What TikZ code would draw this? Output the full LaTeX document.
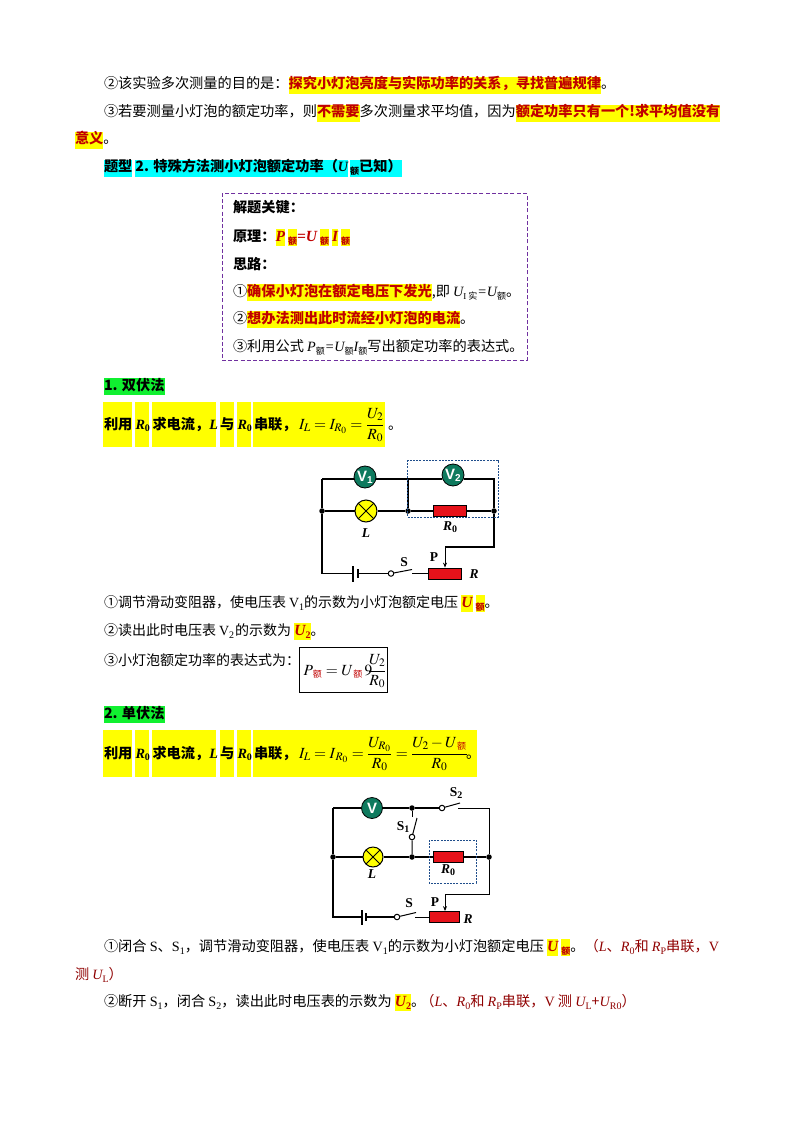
\documentclass[tikz,border=0pt]{standalone}
\usepackage{amsmath}
\usepackage{mathptmx}
\usepackage{fontspec}
\usetikzlibrary{arrows.meta}
\setmainfont{Noto Sans CJK SC}
\newfontfamily\tnr{Liberation Serif}
\newfontfamily\lsans{Liberation Sans}
\definecolor{hlyellow}{HTML}{FFFF00}
\definecolor{hlcyan}{HTML}{00FFFF}
\definecolor{hlred}{HTML}{C00000}
\definecolor{notered}{HTML}{8F0000}
\definecolor{meter}{HTML}{0E7A5E}
\definecolor{resred}{HTML}{E6121A}
\definecolor{dashblue}{HTML}{1F4E8C}
\definecolor{dashpurple}{HTML}{7030A0}
\definecolor{brightgreen}{HTML}{10F030}
\newcommand\bodysize{\fontsize{14.2}{17}\selectfont}
\newcommand\stepsize{\fontsize{14}{17}\selectfont}
\newcommand\mathsz{\fontsize{15.5}{17}\selectfont}
\newcommand\hly[1]{{\setlength\fboxsep{0pt}\colorbox{hlyellow}{\strut\textcolor{hlred}{\bfseries #1}}}}
\newcommand\hlc[1]{{\setlength\fboxsep{0pt}\colorbox{hlcyan}{\strut\bfseries #1}}}
\newcommand\hlg[1]{{\setlength\fboxsep{0pt}\colorbox{brightgreen}{\strut\bfseries #1}}}
\newcommand\xia[1]{\raisebox{-3pt}{\fontsize{9}{9}\selectfont #1}}
\newcommand\xib[1]{\raisebox{-3pt}{\tnr\fontsize{10}{10}\selectfont #1}}
\newcommand\bi[1]{{\tnr\bfseries\itshape\fontsize{15.5}{17}\selectfont #1}}
\newcommand\ti[1]{{\tnr\itshape #1}}
\newcommand\tr[1]{{\tnr #1}}
\newcommand\mxe{\mbox{\fontsize{9}{9}\selectfont\textcolor{hlred}{额}}}
\newcommand\bR{{\tnr\bfseries\itshape R}\raisebox{-2pt}{\tnr\bfseries\fontsize{10}{10}\selectfont 0}}
\tikzset{
  txt/.style={anchor=base west,inner sep=0pt,outer sep=0pt,font=\bodysize},
  steptxt/.style={txt,font=\stepsize},
  mathtxt/.style={txt,font=\mathsz},
  wire/.style={draw=black,line width=1.25pt},
  junction/.style={circle,fill=black,inner sep=0pt,minimum size=5.5pt},
  meterbox/.style={circle,draw=black,line width=.8pt,fill=meter,inner sep=0pt,minimum size=22pt,text=white,font=\lsans\bfseries\fontsize{15}{15}\selectfont},
  lampbox/.style={circle,draw=black,line width=1pt,fill=hlyellow,inner sep=0pt,minimum size=#1,
    path picture={\draw[line width=1pt] (path picture bounding box.south west)--(path picture bounding box.north east) (path picture bounding box.north west)--(path picture bounding box.south east);}},
  resbox/.style={rectangle,draw=black,line width=.8pt,fill=resred,inner sep=0pt,minimum width=#1,minimum height=11pt},
  contact/.style={circle,draw=black,line width=1pt,fill=white,inner sep=0pt,minimum size=5.5pt},
  clabel/.style={inner sep=0pt,font=\tnr\bfseries\fontsize{13.5}{14}\selectfont},
  zone/.style={draw=dashblue,line width=.8pt,dash pattern=on 2pt off 1.2pt},
  seg/.style={fill=hlyellow,draw=none},
}
\newcommand\segbar[5]{% top, bottom, baseline, xend, prefix
  \foreach \a/\b in {103/132,135/149,152/216,220/234,237/251,253/#4}{\path[seg] (\a,#1) rectangle (\b,#2);}
  \node[txt,font=\bodysize\bfseries] (#5a) at (104,#3) {利用};
  \node[txt,font=\bodysize\bfseries] (#5b) at (135.5,#3) {\bR};
  \node[txt,font=\bodysize\bfseries] (#5c) at (152.5,#3) {求电流，{\tnr\itshape L}};
  \node[txt,font=\bodysize\bfseries] (#5d) at (220,#3) {与};
  \node[txt,font=\bodysize\bfseries] (#5e) at (237.5,#3) {\bR};
  \node[txt,font=\bodysize\bfseries] (#5f) at (254,#3) {串联，};
}
\begin{document}
\begin{tikzpicture}[x=1pt,y=-1pt]
\useasboundingbox (0,0) rectangle (794,1123);
% paragraphs
\node[txt] (p1) at (104,89) {②该实验多次测量的目的是：\hly{探究小灯泡亮度与实际功率的关系，寻找普遍规律}。};
\node[txt] (p2) at (104,117) {③若要测量小灯泡的额定功率，则\hly{不需要}多次测量求平均值，因为\hly{额定功率只有一个!求平均值没有}};
\node[txt] (p3) at (75,144) {\hly{意义}。};
\node[txt] (p4) at (104,172) {\hlc{题型}\hspace{3pt}\hlc{2. 特殊方法测小灯泡额定功率（{\tnr\bfseries\itshape U}}\hspace{2pt}\hlc{\xia{额}已知）}};
% key box
\node[draw=dashpurple,line width=1pt,dash pattern=on 4pt off 2.2pt,minimum width=305pt,minimum height=166pt,inner sep=0pt] (keybox) at (374.5,277) {};
\node[txt,font=\bodysize\bfseries] (k1) at (233,213) {解题关键：};
\node[txt,font=\bodysize\bfseries] (k2) at (233,241) {原理：\hly{\bi{P}}\hspace{3pt}\hly{\xia{额}}\textcolor{hlred}{\bi{=U}}\hspace{3pt}\hly{\xia{额}}\hspace{3pt}\hly{\bi{I}}\hspace{3pt}\hly{\xia{额}}};
\node[txt,font=\bodysize\bfseries] (k3) at (233,269) {思路：};
\node[txt] (k4) at (233,296) {①\hly{确保小灯泡在额定电压下发光},即 \ti{U}\xia{\tr{I} 实}\ti{=U}\xia{额}。};
\node[txt] (k5) at (233,323) {②\hly{想办法测出此时流经小灯泡的电流}。};
\node[txt] (k6) at (233,351) {③利用公式 \ti{P}\xia{额}\ti{=U}\xia{额}\ti{I}\xia{额}写出额定功率的表达式。};
% method 1
\node[txt] (h1) at (104,390) {\hlg{1. 双伏法}};
\segbar{402}{447}{429}{385}{ba}
\node[mathtxt] (bm1) at (299,429) {$I_L=I_{R_0}=\dfrac{U_2}{R_0}$};
\node[txt] (bd1) at (388,429) {。};
% circuit 1
\node[meterbox] (V1) at (365,477) {V\raisebox{-2pt}{\fontsize{10}{10}\selectfont 1}};
\node[meterbox] (V2) at (453,475) {V\raisebox{-2pt}{\fontsize{10}{10}\selectfont 2}};
\node[lampbox=22pt] (L1) at (366,511) {};
\node[resbox=33pt] (R01) at (449.5,511) {};
\node[resbox=33pt] (Rh1) at (444.5,573.5) {};
\node[junction] (j1) at (322,511) {};
\node[junction] (j2) at (408,511) {};
\node[junction] (j3) at (494,511) {};
\node[contact] (c1) at (391,573.5) {};
\coordinate (tl1) at (322,479);
\coordinate (tr1) at (494,479);
\coordinate (tm1) at (408,479);
\coordinate (bl1) at (322,573.5);
\coordinate (bt1) at (353,573.5);
\coordinate (bs1) at (358,573.5);
\coordinate (sw1) at (412,569.5);
\coordinate (sx1) at (412,573.5);
\coordinate (tap1) at (494,547);
\coordinate (tq1) at (445,547);
\draw[wire] (tl1) -- (V1.west |- tl1) (V1.east |- tl1) -- (V2.west |- tl1) (V2.east |- tl1) -- (tr1) -- (j3);
\draw[wire] (tl1) -- (j1) -- (L1) -- (j2) -- (R01) -- (j3) -- (tap1) -- (tq1);
\draw[wire] (tm1) -- (j2);
\draw[wire] (j1) -- (bl1) -- (bt1);
\draw[wire] (bt1 |- 0,566) -- (bt1 |- 0,582);
\draw[wire] (bs1 |- 0,569) -- (bs1 |- 0,578);
\draw[wire] (bs1) -- (c1);
\draw[line width=1pt] (c1) -- (sw1);
\draw[line width=1pt] (sx1) -- (Rh1);
\draw[line width=1pt,-{Stealth[length=5pt,width=4pt]}] (tq1) -- (Rh1.north -| tq1);
\draw[zone] (407,460) rectangle (498,517);
\node[clabel] (lb1) at (366,533) {\itshape L};
\node[clabel] (lb2) at (450,527) {\itshape R\raisebox{-2pt}{\upshape\fontsize{10}{10}\selectfont 0}};
\node[clabel] (lb3) at (434,557) {P};
\node[clabel] (lb4) at (404,562) {S};
\node[clabel] (lb5) at (474,574) {\itshape R};
% steps
\node[steptxt] (s1) at (104,607) {①调节滑动变阻器，使电压表 \tr{V}\xib{1}的示数为小灯泡额定电压 \hly{\bi{U}}\hspace{3pt}\hly{\xia{额}}。};
\node[steptxt] (s2) at (104,635) {②读出此时电压表 \tr{V}\xib{2}\hspace{1pt}的示数为 \hly{\bi{U}\xia{\tnr\bfseries\fontsize{10}{10}\selectfont 2}}。};
\node[steptxt] (s3) at (104,665) {③小灯泡额定功率的表达式为：};
\node[draw=black,line width=.9pt,minimum width=88.5pt,minimum height=45pt,inner sep=0pt] (fbox) at (343.5,669.5) {};
\node[mathtxt] (fm) at (303.5,675) {$P_{\mkern3mu\mxe}=U_{\mkern3mu\mxe}\,9\mkern-5mu\dfrac{U_2}{R_0}$};
% method 2
\node[txt] (h2) at (104,718) {\hlg{2. 单伏法}};
\segbar{730}{777}{758}{477}{bb}
\node[mathtxt] (bm2) at (299,758) {$I_L=I_{\,R_0}=\dfrac{U_{R_0}}{R_0}=\dfrac{U_2-U_{\mkern3mu\mxe}}{R_0}$};
\node[txt] (bd2) at (466,758) {。};
% circuit 2
\node[meterbox,minimum size=21pt] (V3) at (372,808) {V};
\node[lampbox=20pt] (L2) at (373,857) {};
\node[resbox=30pt] (R02) at (448,857) {};
\node[resbox=30pt] (Rh2) at (444,917) {};
\node[junction] (j4) at (333,857) {};
\node[junction] (j5) at (412,857) {};
\node[junction] (j6) at (489,857) {};
\node[junction] (j7) at (412,808) {};
\node[contact] (c2) at (442,808) {};
\node[contact] (c3) at (412,837) {};
\node[contact] (c4) at (397,917) {};
\coordinate (tl2) at (333,808);
\coordinate (tr2) at (489,808);
\coordinate (sa2) at (458,808);
\coordinate (sb2) at (460,803);
\coordinate (sc2) at (417,818);
\coordinate (bl2) at (333,917);
\coordinate (bt2) at (362,917);
\coordinate (bs2) at (366,917);
\coordinate (sd2) at (416,912.5);
\coordinate (se2) at (415,917);
\coordinate (tap2) at (489,894);
\coordinate (tq2) at (445,894);
\coordinate (sf2) at (412,817);
\draw[wire] (tl2) -- (V3) (V3) -- (j7) -- (c2);
\draw[line width=1pt] (c2) -- (sb2);
\draw[line width=1pt] (sa2) -- (tr2) -- (j6);
\draw[wire] (tl2) -- (j4) -- (L2) -- (j5) -- (R02) -- (j6);
\draw[line width=1pt] (j7) -- (sf2);
\draw[line width=1pt] (j5) -- (c3) -- (sc2);
\draw[line width=1pt] (j6) -- (tap2) -- (tq2);
\draw[line width=1pt,-{Stealth[length=5pt,width=4pt]}] (tq2) -- (Rh2.north -| tq2);
\draw[wire] (j4) -- (bl2) -- (bt2);
\draw[wire] (bt2 |- 0,910) -- (bt2 |- 0,925);
\draw[wire] (bs2 |- 0,913) -- (bs2 |- 0,921);
\draw[wire] (bs2) -- (c4);
\draw[line width=1pt] (c4) -- (sd2);
\draw[line width=1pt] (se2) -- (Rh2);
\draw[zone] (429,840) rectangle (476,883);
\node[clabel] (lc1) at (456,793) {S\raisebox{-2pt}{\fontsize{10}{10}\selectfont 2}};
\node[clabel] (lc2) at (403,827) {S\raisebox{-2pt}{\fontsize{10}{10}\selectfont 1}};
\node[clabel] (lc3) at (372,874) {\itshape L};
\node[clabel] (lc4) at (448,870) {\itshape R\raisebox{-2pt}{\upshape\fontsize{10}{10}\selectfont 0}};
\node[clabel] (lc5) at (435,902) {P};
\node[clabel] (lc6) at (409,903) {S};
\node[clabel] (lc7) at (468,919) {\itshape R};
% closing
\node[txt] (e1) at (104,951) {①闭合 \tr{S}、\tr{S}\xib{1}，调节滑动变阻器，使电压表 \tr{V}\xib{1}的示数为小灯泡额定电压 \hly{\bi{U}}\hspace{3pt}\hly{\xia{额}}。\textcolor{notered}{（\ti{L}、\ti{R}\xib{0}和 \ti{R}\xib{P}串联，\tr{V}}};
\node[txt] (e2) at (75,979) {\textcolor{notered}{测 \ti{U}\xib{L}）}};
\node[txt] (e3) at (104,1006) {②断开 \tr{S}\xib{1}，闭合 \tr{S}\xib{2}，读出此时电压表的示数为 \hly{\bi{U}\xia{\tnr\bfseries\fontsize{10}{10}\selectfont 2}}。\hspace{-5pt}\textcolor{notered}{（\ti{L}、\ti{R}\xib{0}和 \ti{R}\xib{P}串联，\tr{V} 测 \ti{U}\xib{L}+\ti{U}\xib{R0}）}};
\end{tikzpicture}
\end{document}
